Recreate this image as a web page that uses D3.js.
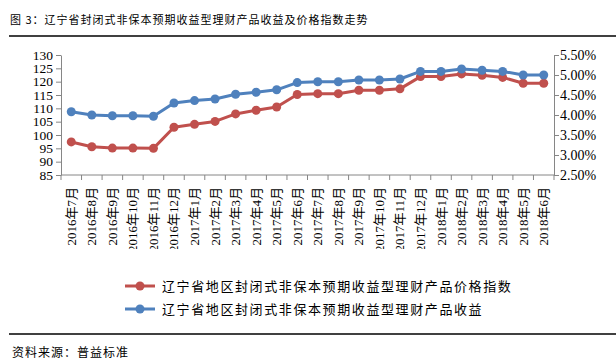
<!DOCTYPE html>
<html>
<head>
<meta charset="utf-8">
<script src="https://cdn.jsdelivr.net/npm/d3@7"></script>
<style>
  body { margin: 0; background: #fff; }
  svg { display: block; }
  .axis path, .axis line { stroke: #868686; }
  .axis text { fill: #000; font-family: "Liberation Serif", "Noto Sans CJK SC", serif; }
</style>
</head>
<body>
<svg id="chart" width="616" height="362"></svg>
<script>
const months = [
  "2016年7月", "2016年8月", "2016年9月", "2016年10月", "2016年11月", "2016年12月",
  "2017年1月", "2017年2月", "2017年3月", "2017年4月", "2017年5月", "2017年6月",
  "2017年7月", "2017年8月", "2017年9月", "2017年10月", "2017年11月", "2017年12月",
  "2018年1月", "2018年2月", "2018年3月", "2018年4月", "2018年5月", "2018年6月"
];

// 价格指数 (left axis)
const priceIndex = [97.4, 95.6, 95.1, 95.1, 95.0, 102.9, 104.0, 105.1, 107.9, 109.3, 110.5, 115.2,
  115.5, 115.5, 116.8, 116.8, 117.3, 121.9, 121.9, 122.9, 122.4, 121.6, 119.4, 119.4];

// 收益 % (right axis)
const yieldPct = [4.08, 4.00, 3.98, 3.98, 3.97, 4.30, 4.36, 4.40, 4.52, 4.57, 4.63, 4.81,
  4.83, 4.83, 4.875, 4.875, 4.90, 5.09, 5.09, 5.15, 5.12, 5.09, 5.00, 5.00];

const leftTicks = [85, 90, 95, 100, 105, 110, 115, 120, 125, 130];
const rightTicks = [2.5, 3.0, 3.5, 4.0, 4.5, 5.0, 5.5];

const seriesNames = [
  "辽宁省地区封闭式非保本预期收益型理财产品价格指数",
  "辽宁省地区封闭式非保本预期收益型理财产品收益"
];
const colors = ["#C0504D", "#4F81BD"];

const svg = d3.select("#chart");
const cjk = '"Noto Sans CJK SC", sans-serif';

// Title and rules
svg.append("text")
  .attr("x", 10).attr("y", 24)
  .attr("font-family", cjk).attr("font-size", 11).attr("letter-spacing", 1)
  .text("图 3：辽宁省封闭式非保本预期收益型理财产品收益及价格指数走势");
svg.append("line").attr("x1", 9).attr("x2", 616).attr("y1", 36).attr("y2", 36)
  .attr("stroke", "#000").attr("stroke-width", 1.5);
svg.append("line").attr("x1", 9).attr("x2", 616).attr("y1", 334).attr("y2", 334)
  .attr("stroke", "#000").attr("stroke-width", 1.5);
svg.append("text")
  .attr("x", 12).attr("y", 357)
  .attr("font-family", cjk).attr("font-size", 12).attr("letter-spacing", 1)
  .text("资料来源：普益标准");

const plotL = 61, plotR = 554, plotT = 55, plotB = 175;

const x = d3.scaleBand().domain(months).range([plotL, plotR]).padding(0);
const yL = d3.scaleLinear().domain([85, 130]).range([plotB, plotT]);
const yR = d3.scaleLinear().domain([2.5, 5.5]).range([plotB, plotT]);

// Left axis
svg.append("g").attr("class", "axis")
  .attr("transform", `translate(${plotL},0)`)
  .call(d3.axisLeft(yL).tickValues(leftTicks).tickSize(5).tickSizeOuter(0).tickPadding(3))
  .call(g => g.selectAll("text").attr("font-size", 13.5));

// Right axis
svg.append("g").attr("class", "axis")
  .attr("transform", `translate(${plotR},0)`)
  .call(d3.axisRight(yR).tickValues(rightTicks).tickSize(5).tickSizeOuter(0).tickPadding(1)
    .tickFormat(d => d.toFixed(2) + "%"))
  .call(g => g.selectAll("text").attr("font-size", 14));

// Bottom axis with ticks at band edges
const xAxis = svg.append("g").attr("class", "axis")
  .attr("transform", `translate(0,${plotB})`);
xAxis.append("line").attr("x1", plotL).attr("x2", plotR);
xAxis.selectAll("line.tk")
  .data(d3.range(months.length + 1))
  .join("line").attr("class", "tk")
  .attr("x1", i => plotL + i * x.step()).attr("x2", i => plotL + i * x.step())
  .attr("y1", 0).attr("y2", 5);

svg.append("clipPath").attr("id", "xclip")
  .append("rect").attr("x", 0).attr("y", 176).attr("width", 616).attr("height", 73);
svg.append("g").attr("clip-path", "url(#xclip)")
  .selectAll("text")
  .data(months)
  .join("text")
  .attr("transform", d => `translate(${x(d) + x.bandwidth() / 2 + 4.5},187) rotate(-90)`)
  .attr("text-anchor", "end")
  .attr("font-family", '"Liberation Serif", "Noto Sans CJK SC", serif')
  .attr("font-size", 13)
  .text(d => d);

// Series
const cx = d => x(d) + x.bandwidth() / 2;
const lineL = d3.line().x((d, i) => cx(months[i])).y(d => yL(d));
const lineR = d3.line().x((d, i) => cx(months[i])).y(d => yR(d));

function drawSeries(values, line, yScale, color) {
  svg.append("path").datum(values)
    .attr("fill", "none").attr("stroke", color).attr("stroke-width", 3)
    .attr("stroke-linejoin", "round").attr("d", line);
  svg.append("g").selectAll("circle").data(values).join("circle")
    .attr("cx", (d, i) => cx(months[i])).attr("cy", d => yScale(d))
    .attr("r", 4.5).attr("fill", color);
}
drawSeries(priceIndex, lineL, yL, colors[0]);
drawSeries(yieldPct, lineR, yR, colors[1]);

// Legend
const legend = svg.append("g");
seriesNames.forEach((name, i) => {
  const ly = 286 + i * 23;
  legend.append("line").attr("x1", 125).attr("x2", 155).attr("y1", ly).attr("y2", ly)
    .attr("stroke", colors[i]).attr("stroke-width", 3);
  legend.append("circle").attr("cx", 140).attr("cy", ly).attr("r", 4.5).attr("fill", colors[i]);
  legend.append("text").attr("x", 162).attr("y", ly + 5)
    .attr("font-family", cjk).attr("font-size", 13).attr("letter-spacing", 1.6)
    .text(name);
});
</script>
</body>
</html>
